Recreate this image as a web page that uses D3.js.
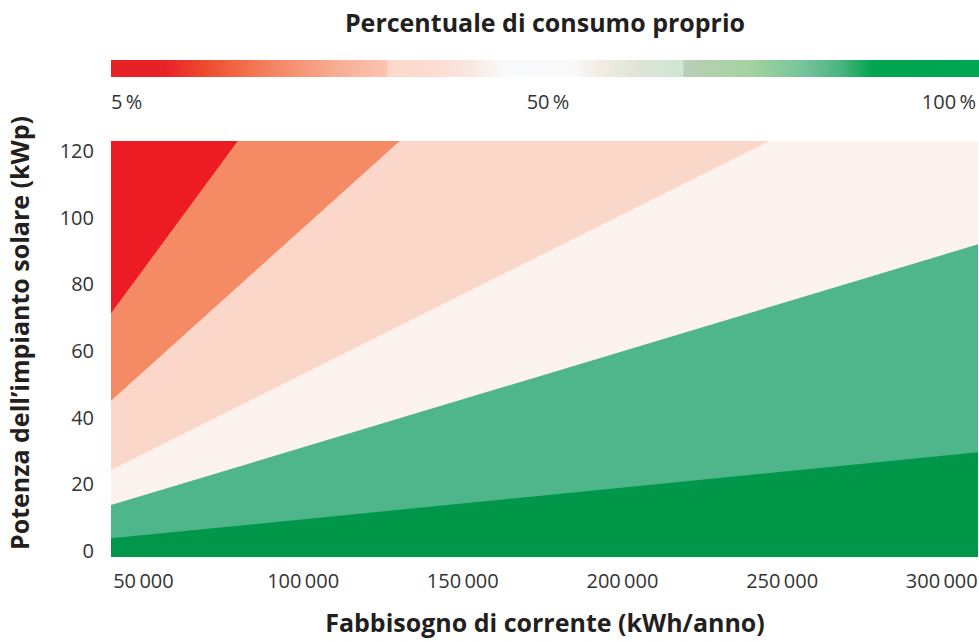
<!DOCTYPE html>
<html>
<head>
<meta charset="utf-8">
<script src="https://cdn.jsdelivr.net/npm/d3@7"></script>
<style>
  body { margin: 0; background: #fff; }
  svg { display: block; font-family: "Open Sans", "Noto Sans", sans-serif; }
</style>
</head>
<body>
<svg width="979" height="641"></svg>
<script>
// Demand at the left and right edge of the plot (kWh/anno)
const demandEdges = [40000, 311500];

// kWp at the two edges for each boundary line between the colour bands
const limitRedOrange = [71.3, 425];
const limitOrangePeach = [45.1, 279];
const limitPeachLight = [24.3, 154.3];
const limitLightGreen = [13.8, 92.0];
const limitGreenDark = [3.8, 29.6];

const bandLimits = [limitRedOrange, limitOrangePeach, limitPeachLight, limitLightGreen, limitGreenDark];
const bandColors = ["#ED1C24", "#F58B64", "#FBD7C9", "#FCF3EF", "#4EB68A", "#00974A"];

const xTicks = [50000, 100000, 150000, 200000, 250000, 300000];
const yTicks = [0, 20, 40, 60, 80, 100, 120];

// legend gradient
const legendOffsets = [0, 0.062, 0.108, 0.177, 0.262, 0.318, 0.319, 0.377, 0.416, 0.454, 0.532, 0.563, 0.609, 0.659, 0.66, 0.736, 0.802, 0.84, 0.878, 1];
const legendColors = ["#E82127", "#E82127", "#EE4A2F", "#F47E5B", "#F8AE95", "#FCC4B1", "#FDD8CC", "#FDDDD2", "#F8E9E1", "#F9FAFC", "#F9F9F9", "#F3EDE4", "#DDE5D6", "#CEE6D5", "#B9CEB8", "#A4D39F", "#71C39B", "#4BB47F", "#00A550", "#00A651"];
const legendLabels = ["5\u2009%", "50\u2009%", "100\u2009%"];

const svg = d3.select("svg");
const textColor = "#333";
const titleColor = "#231F20";

const x = d3.scaleLinear().domain(demandEdges).range([111, 978]);
const y = d3.scaleLinear().domain([-1.8, 123]).range([557, 141]);

const fmt = d3.formatLocale({ decimal: ",", thousands: "\u2009", grouping: [3], currency: ["", "€"] }).format(",d");

// ---- legend ----
const grad = svg.append("defs").append("linearGradient").attr("id", "legendGrad");
grad.selectAll("stop")
  .data(legendOffsets)
  .enter().append("stop")
  .attr("offset", d => d)
  .attr("stop-color", (d, i) => legendColors[i]);

svg.append("rect")
  .attr("x", 111).attr("y", 60)
  .attr("width", 868).attr("height", 17)
  .attr("fill", "url(#legendGrad)");

svg.append("text")
  .attr("x", 545).attr("y", 32)
  .attr("text-anchor", "middle")
  .attr("font-size", 25).attr("font-weight", "bold")
  .attr("fill", titleColor)
  .text("Percentuale di consumo proprio");

svg.selectAll(".legend-label")
  .data(legendLabels)
  .enter().append("text")
  .attr("class", "legend-label")
  .attr("x", (d, i) => [111, 548, 976][i])
  .attr("y", 109)
  .attr("text-anchor", (d, i) => ["start", "middle", "end"][i])
  .attr("font-size", 20)
  .attr("fill", textColor)
  .text(d => d);

// ---- bands ----
svg.append("clipPath").attr("id", "plotClip")
  .append("rect")
  .attr("x", x.range()[0]).attr("y", y.range()[1])
  .attr("width", x.range()[1] - x.range()[0])
  .attr("height", y.range()[0] - y.range()[1]);

const plot = svg.append("g").attr("clip-path", "url(#plotClip)");

// top band fills the whole plot, each following band is painted below its upper limit
plot.append("rect")
  .attr("x", x.range()[0]).attr("y", y.range()[1])
  .attr("width", x.range()[1] - x.range()[0])
  .attr("height", y.range()[0] - y.range()[1])
  .attr("fill", bandColors[0]);

const area = d3.area()
  .x((d, i) => x(demandEdges[i]))
  .y0(y(y.domain()[0]))
  .y1(d => y(d));

plot.selectAll(".band")
  .data(bandLimits)
  .enter().append("path")
  .attr("class", "band")
  .attr("d", d => area(d))
  .attr("fill", (d, i) => bandColors[i + 1]);

// ---- axes ----
const xAxis = svg.append("g")
  .attr("transform", "translate(0," + y.range()[0] + ")")
  .call(d3.axisBottom(x).tickValues(xTicks).tickSize(0).tickPadding(17).tickFormat(fmt));

const yAxis = svg.append("g")
  .attr("transform", "translate(" + x.range()[0] + ",0)")
  .call(d3.axisLeft(y).tickValues(yTicks).tickSize(0).tickPadding(17));

[xAxis, yAxis].forEach(a => {
  a.select(".domain").remove();
  a.selectAll("text")
    .attr("font-size", 20)
    .attr("font-family", "\"Open Sans\", \"Noto Sans\", sans-serif")
    .attr("fill", textColor);
});

svg.append("text")
  .attr("x", 545).attr("y", 632)
  .attr("text-anchor", "middle")
  .attr("font-size", 25).attr("font-weight", "bold")
  .attr("fill", titleColor)
  .text("Fabbisogno di corrente (kWh/anno)");

svg.append("text")
  .attr("transform", "translate(29,333) rotate(-90)")
  .attr("text-anchor", "middle")
  .attr("font-size", 25).attr("font-weight", "bold")
  .attr("fill", titleColor)
  .text("Potenza dell\u2019impianto solare (kWp)");
</script>
</body>
</html>
